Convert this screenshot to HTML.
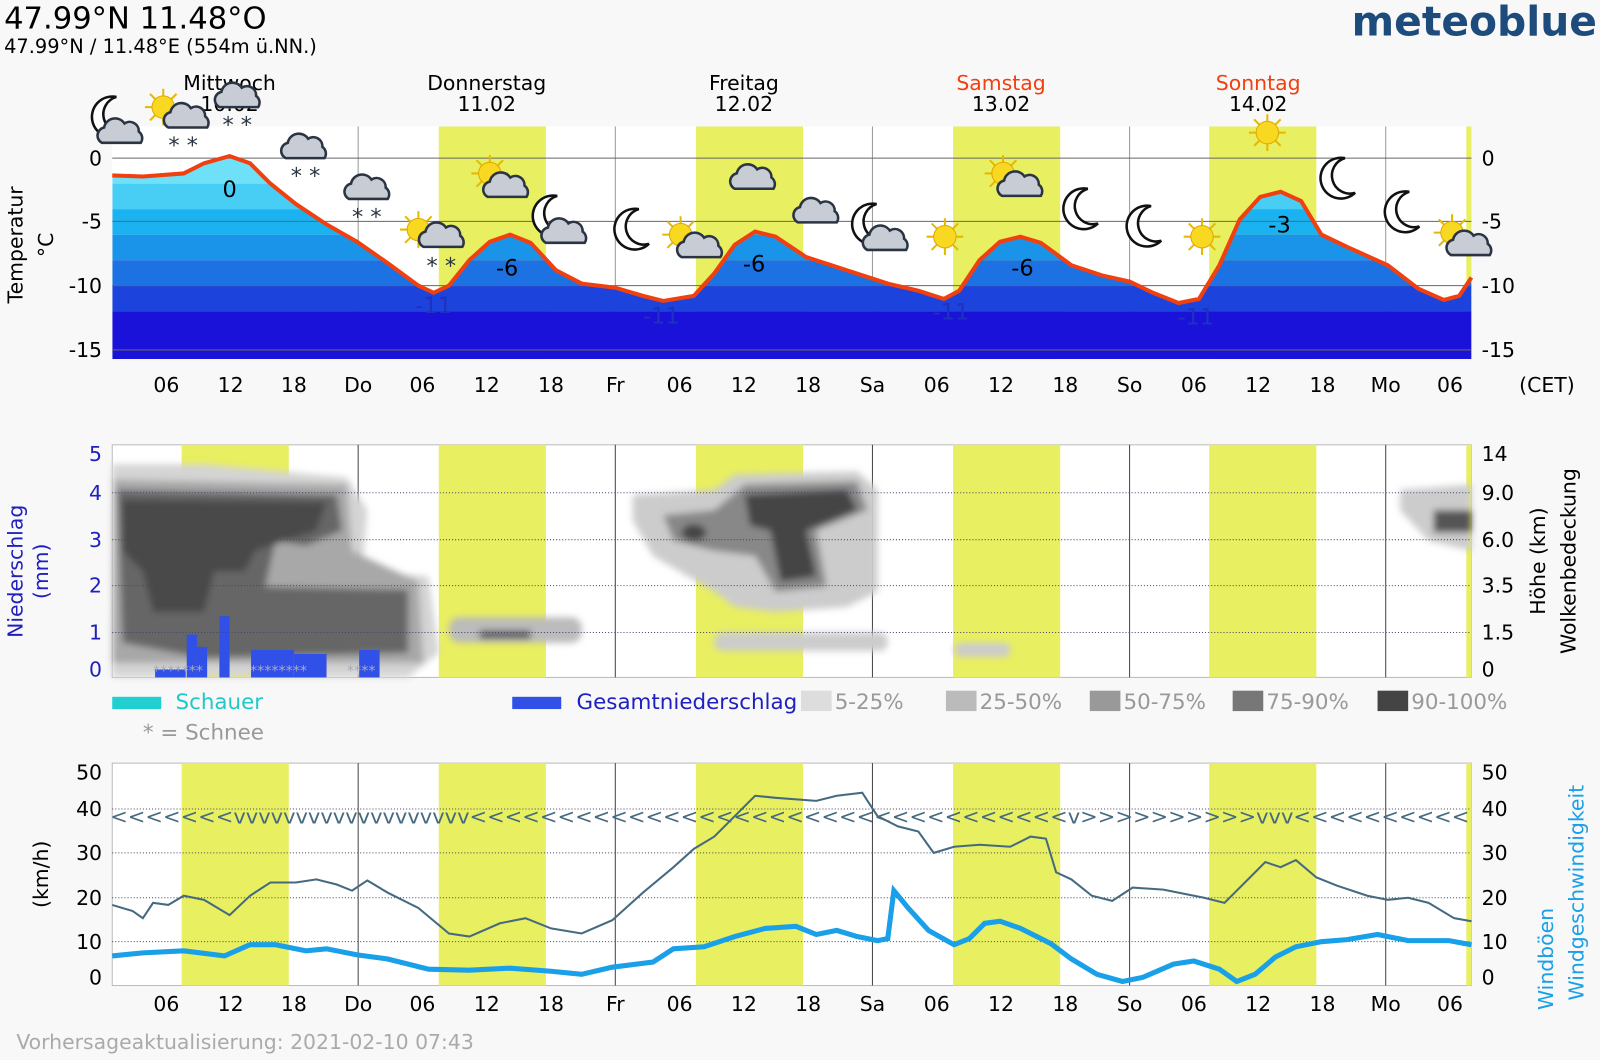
<!DOCTYPE html>
<html><head><meta charset="utf-8"><style>
body{margin:0;background:#f8f8f8;width:1600px;height:1060px;overflow:hidden;font-family:"DejaVu Sans","Liberation Sans",sans-serif}
svg{display:block}
</style></head><body>
<svg width="1600" height="1060" viewBox="0 0 1568 1039" preserveAspectRatio="none" xmlns="http://www.w3.org/2000/svg" font-family="DejaVu Sans, Liberation Sans, sans-serif">
<defs>
<clipPath id="tc"><path d="M110,172 L140,173 L180,170 L200,160 L225,153 L245,160 L265,180 L290,200 L320,220 L350,237 L380,258 L410,280 L425,287 L440,280 L460,255 L480,237 L500,230 L520,238 L545,265 L570,278 L603,282 L630,290 L650,295 L680,290 L700,268 L720,240 L740,227 L760,232 L790,252 L830,265 L870,278 L900,285 L925,293 L940,285 L960,255 L980,237 L1000,232 L1020,238 L1050,260 L1080,270 L1107,276 L1130,287 L1155,297 L1175,293 L1195,260 L1215,215 L1235,193 L1255,188 L1275,197 L1295,230 L1320,242 L1360,260 L1390,283 L1415,294 L1430,290 L1442,272 L1442,352 L110,352Z"/></clipPath>
<clipPath id="p3"><rect x="110" y="748" width="1332" height="218"/></clipPath>
<filter id="bl"><feGaussianBlur stdDeviation="3.5"/></filter>
<g id="sun"><g stroke="#e8b800" stroke-width="2"><line x1="-18" y1="0" x2="18" y2="0"/><line x1="0" y1="-18" x2="0" y2="18"/><line x1="-13" y1="-13" x2="13" y2="13"/><line x1="-13" y1="13" x2="13" y2="-13"/></g><circle r="11" fill="#f8d820" stroke="#e0a800"/></g>
<g id="cl"><path d="M-20,10 a8,8 0 0 1 2,-15 a11,11 0 0 1 20,-4 a9,9 0 0 1 14,8 a8,8 0 0 1 2,11z" fill="#c8ccd4" stroke="#2a3442" stroke-width="2.5"/></g>
<g id="moon"><path d="M6,-20 a20,20 0 1 0 10,34 a16,16 0 1 1 -10,-34z" fill="#fff" stroke="#111" stroke-width="2.5"/></g>
</defs>
<rect width="1568" height="1039" fill="#f8f8f8"/>
<!-- header -->
<text x="4" y="28" font-size="30">47.99°N 11.48°O</text>
<text x="4" y="52" font-size="19">47.99°N / 11.48°E (554m ü.NN.)</text>
<text x="1565" y="35" font-size="40" font-weight="bold" fill="#1d4b7c" text-anchor="end">meteoblue</text>
<!-- Panel 1 -->
<rect x="110" y="124" width="1332" height="228" fill="#fff"/>
<g fill="#e8ef60"><rect x="430" y="124" width="105" height="228"/><rect x="682" y="124" width="105" height="228"/><rect x="934" y="124" width="105" height="228"/><rect x="1185" y="124" width="105" height="228"/><rect x="1437" y="124" width="5" height="228"/></g>
<g stroke="#999" stroke-width="1"><line x1="351" y1="124" x2="351" y2="352"/><line x1="603" y1="124" x2="603" y2="352"/><line x1="855" y1="124" x2="855" y2="352"/><line x1="1107" y1="124" x2="1107" y2="352"/><line x1="1358" y1="124" x2="1358" y2="352"/></g>
<g clip-path="url(#tc)">
<rect x="110" y="124" width="1332" height="56" fill="#6ee0f8"/>
<rect x="110" y="180" width="1332" height="25" fill="#48cdf5"/>
<rect x="110" y="205" width="1332" height="25" fill="#1ab2f0"/>
<rect x="110" y="230" width="1332" height="25" fill="#1a94e8"/>
<rect x="110" y="255" width="1332" height="25" fill="#1c72e2"/>
<rect x="110" y="280" width="1332" height="25" fill="#1c44dc"/>
<rect x="110" y="305" width="1332" height="47" fill="#1a12d8"/>
</g>
<g stroke="#666" stroke-width="1"><line x1="110" y1="155" x2="1442" y2="155"/><line x1="110" y1="217" x2="1442" y2="217"/><line x1="110" y1="280" x2="1442" y2="280"/><line x1="110" y1="343" x2="1442" y2="343"/></g>
<path d="M110,172 L140,173 L180,170 L200,160 L225,153 L245,160 L265,180 L290,200 L320,220 L350,237 L380,258 L410,280 L425,287 L440,280 L460,255 L480,237 L500,230 L520,238 L545,265 L570,278 L603,282 L630,290 L650,295 L680,290 L700,268 L720,240 L740,227 L760,232 L790,252 L830,265 L870,278 L900,285 L925,293 L940,285 L960,255 L980,237 L1000,232 L1020,238 L1050,260 L1080,270 L1107,276 L1130,287 L1155,297 L1175,293 L1195,260 L1215,215 L1235,193 L1255,188 L1275,197 L1295,230 L1320,242 L1360,260 L1390,283 L1415,294 L1430,290 L1442,272" fill="none" stroke="#f04010" stroke-width="4"/>
<g font-size="22" text-anchor="middle"><text x="225" y="193">0</text><text x="497" y="270">-6</text><text x="739" y="266">-6</text><text x="1002" y="270">-6</text><text x="1254" y="228">-3</text></g>
<g font-size="22" text-anchor="middle" fill="#2030c0"><text x="425" y="307">-11</text><text x="648" y="317">-11</text><text x="932" y="313">-11</text><text x="1172" y="318">-11</text></g>
<g font-size="20" text-anchor="middle"><text x="225" y="88">Mittwoch</text><text x="225" y="109">10.02</text><text x="477" y="88">Donnerstag</text><text x="477" y="109">11.02</text><text x="729" y="88">Freitag</text><text x="729" y="109">12.02</text><text x="981" y="88" fill="#f04010">Samstag</text><text x="981" y="109">13.02</text><text x="1233" y="88" fill="#f04010">Sonntag</text><text x="1233" y="109">14.02</text></g>
<!-- icons -->
<use href="#moon" x="108" y="115"/><use href="#cl" x="120" y="130"/>
<use href="#sun" x="160" y="105"/><use href="#cl" x="185" y="115"/>
<use href="#cl" x="235" y="95"/>
<use href="#cl" x="300" y="145"/><use href="#cl" x="362" y="185"/>
<use href="#sun" x="410" y="225"/><use href="#cl" x="435" y="232"/>
<use href="#sun" x="480" y="170"/><use href="#cl" x="498" y="183"/>
<use href="#moon" x="540" y="212"/><use href="#cl" x="555" y="228"/>
<use href="#moon" x="620" y="225"/>
<use href="#sun" x="667" y="230"/><use href="#cl" x="688" y="242"/>
<use href="#cl" x="740" y="175"/>
<use href="#cl" x="802" y="208"/>
<use href="#moon" x="853" y="220"/><use href="#cl" x="870" y="235"/>
<use href="#sun" x="926" y="232"/>
<use href="#sun" x="983" y="170"/><use href="#cl" x="1002" y="182"/>
<use href="#moon" x="1060" y="205"/><use href="#moon" x="1122" y="222"/>
<use href="#sun" x="1178" y="232"/>
<use href="#sun" x="1242" y="130"/>
<use href="#moon" x="1312" y="175"/><use href="#moon" x="1375" y="208"/>
<use href="#sun" x="1423" y="228"/><use href="#cl" x="1442" y="240"/>
<g font-size="22" fill="#2a3442"><text x="165" y="150">* *</text><text x="218" y="130">* *</text><text x="285" y="180">* *</text><text x="345" y="220">* *</text><text x="418" y="268">* *</text></g>
<!-- p1 axes -->
<g font-size="20" text-anchor="end"><text x="100" y="162">0</text><text x="100" y="224">-5</text><text x="100" y="287">-10</text><text x="100" y="350">-15</text></g>
<g font-size="20"><text x="1452" y="162">0</text><text x="1452" y="224">-5</text><text x="1452" y="287">-10</text><text x="1452" y="350">-15</text></g>
<text transform="translate(22,240) rotate(-90)" font-size="20" text-anchor="middle">Temperatur</text>
<text transform="translate(52,240) rotate(-90)" font-size="20" text-anchor="middle">°C</text>
<g font-size="20" text-anchor="middle" id="ticks">
<text x="163" y="384">06</text><text x="226" y="384">12</text><text x="288" y="384">18</text><text x="351" y="384">Do</text>
<text x="414" y="384">06</text><text x="477" y="384">12</text><text x="540" y="384">18</text><text x="603" y="384">Fr</text>
<text x="666" y="384">06</text><text x="729" y="384">12</text><text x="792" y="384">18</text><text x="855" y="384">Sa</text>
<text x="918" y="384">06</text><text x="981" y="384">12</text><text x="1044" y="384">18</text><text x="1107" y="384">So</text>
<text x="1170" y="384">06</text><text x="1233" y="384">12</text><text x="1296" y="384">18</text><text x="1358" y="384">Mo</text>
<text x="1421" y="384">06</text><text x="1516" y="384">(CET)</text></g>
<!-- Panel 2 -->
<rect x="110" y="436" width="1332" height="228" fill="#fff" stroke="#bbb"/>
<g fill="#e8ef60"><rect x="178" y="436" width="105" height="228"/><rect x="430" y="436" width="105" height="228"/><rect x="682" y="436" width="105" height="228"/><rect x="934" y="436" width="105" height="228"/><rect x="1185" y="436" width="105" height="228"/><rect x="1437" y="436" width="5" height="228"/></g>
<g stroke="#444" stroke-width="1"><line x1="351" y1="436" x2="351" y2="664"/><line x1="603" y1="436" x2="603" y2="664"/><line x1="855" y1="436" x2="855" y2="664"/><line x1="1107" y1="436" x2="1107" y2="664"/><line x1="1358" y1="436" x2="1358" y2="664"/></g>
<g filter="url(#bl)">
<path d="M110,455 L200,455 L340,468 L360,500 L355,560 L420,565 L430,640 L400,664 L110,664Z" fill="#d4d4d4"/>
<path d="M112,470 L340,475 L345,540 L410,570 L415,650 L110,650Z" fill="#a8a8a8"/>
<path d="M115,480 L330,485 L335,520 L300,535 L270,530 L260,575 L400,578 L400,640 L200,645 L120,630Z" fill="#666"/>
<path d="M120,490 L320,492 L310,520 L250,540 L240,560 L210,560 L200,600 L150,600 L140,560 L120,540Z" fill="#4a4a4a"/>
<rect x="440" y="605" width="130" height="25" fill="#bbb" rx="10"/><rect x="470" y="618" width="50" height="8" fill="#555"/>
<path d="M620,485 L700,480 L720,465 L840,462 L860,480 L860,580 L830,595 L760,600 L720,595 L700,580 L640,545 L620,510Z" fill="#ccc"/>
<path d="M650,505 L700,500 L730,475 L840,472 L850,500 L800,520 L810,575 L760,580 L740,545 L700,540 L660,530Z" fill="#888"/>
<path d="M730,485 L830,480 L840,500 L790,520 L800,565 L765,570 L755,520 L735,515Z" fill="#444"/><ellipse cx="680" cy="522" rx="12" ry="8" fill="#444"/>
<rect x="700" y="620" width="170" height="18" fill="#ccc" rx="8"/>
<rect x="935" y="630" width="55" height="14" fill="#ccc" rx="6"/>
<path d="M1372,480 L1442,475 L1442,540 L1400,530 L1372,500Z" fill="#ccc"/>
<rect x="1405" y="500" width="37" height="22" fill="#555"/>
</g>
<g fill="#3050e8"><rect x="152" y="656" width="30" height="8"/><rect x="183" y="622" width="10" height="42"/><rect x="193" y="634" width="10" height="30"/><rect x="215" y="604" width="10" height="60"/><rect x="246" y="637" width="42" height="27"/><rect x="288" y="641" width="32" height="23"/><rect x="352" y="637" width="20" height="27"/></g>
<text x="150" y="662" font-size="14" fill="#aab">*******</text><text x="245" y="662" font-size="14" fill="#aab">********</text><text x="340" y="662" font-size="14" fill="#aab">****</text>
<g stroke="#446" stroke-dasharray="1,2"><line x1="110" y1="483" x2="1442" y2="483"/><line x1="110" y1="529" x2="1442" y2="529"/><line x1="110" y1="574" x2="1442" y2="574"/><line x1="110" y1="620" x2="1442" y2="620"/></g>
<g font-size="20" text-anchor="end" fill="#2020c0"><text x="100" y="452">5</text><text x="100" y="490">4</text><text x="100" y="536">3</text><text x="100" y="581">2</text><text x="100" y="627">1</text><text x="100" y="663">0</text></g>
<g font-size="20"><text x="1452" y="452">14</text><text x="1452" y="490">9.0</text><text x="1452" y="536">6.0</text><text x="1452" y="581">3.5</text><text x="1452" y="627">1.5</text><text x="1452" y="663">0</text></g>
<text transform="translate(22,560) rotate(-90)" font-size="20" text-anchor="middle" fill="#2020c0">Niederschlag</text>
<text transform="translate(47,560) rotate(-90)" font-size="20" text-anchor="middle" fill="#2020c0">(mm)</text>
<text transform="translate(1514,550) rotate(-90)" font-size="20" text-anchor="middle">Höhe (km)</text>
<text transform="translate(1544,550) rotate(-90)" font-size="20" text-anchor="middle">Wolkenbedeckung</text>
<rect x="110" y="683" width="48" height="12" fill="#20d0d0"/><text x="172" y="695" font-size="21" fill="#20c8c8">Schauer</text>
<text x="140" y="725" font-size="21" fill="#999">* = Schnee</text>
<rect x="502" y="683" width="48" height="12" fill="#3050e8"/><text x="565" y="695" font-size="21" fill="#2020c0">Gesamtniederschlag</text>
<g font-size="21" fill="#999"><rect x="785" y="677" width="30" height="20" fill="#ddd"/><text x="818" y="695">5-25%</text><rect x="927" y="677" width="30" height="20" fill="#bbb"/><text x="960" y="695">25-50%</text><rect x="1068" y="677" width="30" height="20" fill="#999"/><text x="1101" y="695">50-75%</text><rect x="1208" y="677" width="30" height="20" fill="#777"/><text x="1241" y="695">75-90%</text><rect x="1350" y="677" width="30" height="20" fill="#444"/><text x="1383" y="695">90-100%</text></g>
<!-- Panel 3 -->
<rect x="110" y="748" width="1332" height="218" fill="#fff" stroke="#bbb"/>
<g fill="#e8ef60"><rect x="178" y="748" width="105" height="218"/><rect x="430" y="748" width="105" height="218"/><rect x="682" y="748" width="105" height="218"/><rect x="934" y="748" width="105" height="218"/><rect x="1185" y="748" width="105" height="218"/><rect x="1437" y="748" width="5" height="218"/></g>
<g stroke="#444" stroke-width="1"><line x1="351" y1="748" x2="351" y2="966"/><line x1="603" y1="748" x2="603" y2="966"/><line x1="855" y1="748" x2="855" y2="966"/><line x1="1107" y1="748" x2="1107" y2="966"/><line x1="1358" y1="748" x2="1358" y2="966"/></g>
<g stroke="#446" stroke-dasharray="1,2"><line x1="110" y1="793" x2="1442" y2="793"/><line x1="110" y1="836" x2="1442" y2="836"/><line x1="110" y1="880" x2="1442" y2="880"/><line x1="110" y1="923" x2="1442" y2="923"/></g>
<g clip-path="url(#p3)">
<text x="108" y="807" font-size="20" fill="#456a80" textLength="1332" lengthAdjust="spacingAndGlyphs">&lt;&lt;&lt;&lt;&lt;&lt;&lt;vvvvvvvvvvvvvvvvvvv&lt;&lt;&lt;&lt;&lt;&lt;&lt;&lt;&lt;&lt;&lt;&lt;&lt;&lt;&lt;&lt;&lt;&lt;&lt;&lt;&lt;&lt;&lt;&lt;&lt;&lt;&lt;&lt;&lt;&lt;&lt;&lt;&lt;&lt;v&gt;&gt;&gt;&gt;&gt;&gt;&gt;&gt;&gt;&gt;vvv&lt;&lt;&lt;&lt;&lt;&lt;&lt;&lt;&lt;&lt;</text>
</g>
<path d="M110,887 L130,893 L140,900 L150,885 L165,887 L180,878 L200,882 L225,897 L245,878 L265,865 L290,865 L310,862 L330,867 L345,873 L360,863 L380,875 L410,890 L440,915 L460,918 L490,905 L515,900 L540,910 L570,915 L600,902 L630,875 L660,850 L680,832 L700,820 L720,800 L740,780 L760,782 L800,785 L820,780 L845,777 L860,800 L880,810 L900,815 L915,836 L935,830 L960,828 L990,830 L1010,820 L1025,822 L1035,855 L1050,862 L1070,878 L1090,883 L1110,870 L1140,872 L1180,880 L1200,885 L1220,865 L1240,845 L1255,850 L1270,843 L1290,860 L1310,868 L1340,878 L1360,882 L1380,880 L1400,885 L1425,900 L1442,903" fill="none" stroke="#456a80" stroke-width="2"/>
<path d="M110,937 L140,934 L180,932 L220,937 L245,926 L270,926 L300,932 L320,930 L350,936 L380,940 L420,950 L460,951 L500,949 L540,952 L570,955 L600,948 L640,943 L660,930 L690,928 L720,918 L750,910 L780,908 L800,916 L820,912 L840,918 L860,922 L870,920 L876,873 L890,890 L910,912 L935,926 L950,920 L965,905 L980,903 L1000,910 L1030,925 L1050,940 L1075,955 L1100,962 L1120,958 L1150,945 L1170,942 L1195,950 L1212,962 L1230,955 L1250,938 L1270,928 L1295,923 L1320,921 L1350,916 L1380,922 L1420,922 L1442,926" fill="none" stroke="#1aa0e8" stroke-width="5"/>
<g font-size="20" text-anchor="end"><text x="100" y="764">50</text><text x="100" y="800">40</text><text x="100" y="843">30</text><text x="100" y="887">20</text><text x="100" y="930">10</text><text x="100" y="965">0</text></g>
<g font-size="20"><text x="1452" y="764">50</text><text x="1452" y="800">40</text><text x="1452" y="843">30</text><text x="1452" y="887">20</text><text x="1452" y="930">10</text><text x="1452" y="965">0</text></g>
<text transform="translate(47,857) rotate(-90)" font-size="20" text-anchor="middle">(km/h)</text>
<text transform="translate(1522,940) rotate(-90)" font-size="20" text-anchor="middle" fill="#1aa0e8">Windböen</text>
<text transform="translate(1552,875) rotate(-90)" font-size="20" text-anchor="middle" fill="#1aa0e8">Windgeschwindigkeit</text>
<g font-size="20" text-anchor="middle">
<text x="163" y="991">06</text><text x="226" y="991">12</text><text x="288" y="991">18</text><text x="351" y="991">Do</text>
<text x="414" y="991">06</text><text x="477" y="991">12</text><text x="540" y="991">18</text><text x="603" y="991">Fr</text>
<text x="666" y="991">06</text><text x="729" y="991">12</text><text x="792" y="991">18</text><text x="855" y="991">Sa</text>
<text x="918" y="991">06</text><text x="981" y="991">12</text><text x="1044" y="991">18</text><text x="1107" y="991">So</text>
<text x="1170" y="991">06</text><text x="1233" y="991">12</text><text x="1296" y="991">18</text><text x="1358" y="991">Mo</text>
<text x="1421" y="991">06</text></g>
<text x="16" y="1028" font-size="20" fill="#aaa">Vorhersageaktualisierung: 2021-02-10 07:43</text>
</svg>
</body></html>
